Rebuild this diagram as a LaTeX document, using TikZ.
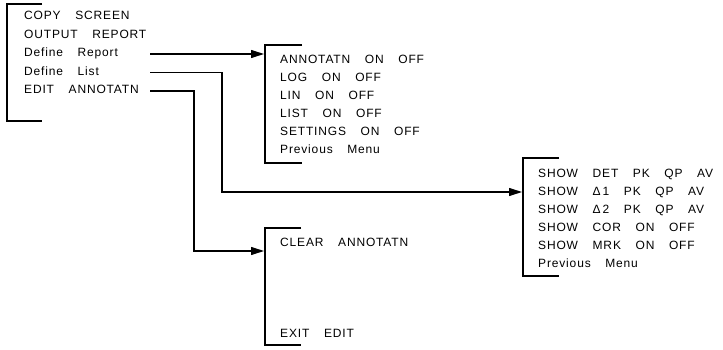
\documentclass[tikz,border=0pt]{standalone}
\usepackage{fontspec}
\newfontfamily\menufont{Liberation Sans}[LetterSpace=7,WordSpace=3.5]
\usetikzlibrary{arrows.meta}

\begin{document}
\begin{tikzpicture}[x=1pt, y=-1pt, every node/.style={font=\menufont\fontsize{12}{14}\selectfont}, item/.style={anchor=west,inner sep=0pt,text height=8.6pt,text depth=3pt}, bracket/.style={line width=1.8pt}, arrow/.style={-{Triangle[length=13pt,width=8pt]},line width=1.1pt}]
\useasboundingbox (0,0) rectangle (723,350);
% main menu
\draw[bracket] (42,4) -| (7,121) -- (42,121);
\node[item] (copy) at (24,17) {COPY SCREEN};
\node[item] (output) at (24,35.5) {OUTPUT REPORT};
\node[item] (defrep) at (24,54) {Define Report};
\node[item] (deflist) at (24,72.5) {Define List};
\node[item] (editann) at (24,91) {EDIT ANNOTATN};
\coordinate (out) at (150,0);
\coordinate (listbend) at (222,0);
\coordinate (editbend) at (194,0);
% define report menu
\draw[bracket] (302,45) -| (265,163) -- (302,163);
\coordinate (rephead) at (264,54);
\node[item] (annot) at (280,60.5) {ANNOTATN ON OFF};
\node[item] (log) at (280,78.5) {LOG ON OFF};
\node[item] (lin) at (280,96.5) {LIN ON OFF};
\node[item] (list) at (280,114.5) {LIST ON OFF};
\node[item] (settings) at (280,132.5) {SETTINGS ON OFF};
\node[item] (prevrep) at (280,150.5) {Previous Menu};
% define list menu
\draw[bracket] (559,158) -| (523,276) -- (559,276);
\coordinate (listhead) at (522,192);
\node[item] (showdet) at (538,174.5) {SHOW DET PK QP AV};
\node[item] (showda) at (538,192.5) {SHOW Δ\,1 PK QP AV};
\node[item] (showdb) at (538,210.5) {SHOW Δ\,2 PK QP AV};
\node[item] (showcor) at (538,228.5) {SHOW COR ON OFF};
\node[item] (showmrk) at (538,246.5) {SHOW MRK ON OFF};
\node[item] (prevlist) at (538,264.5) {Previous Menu};
% edit annotation menu
\draw[bracket] (301,228) -| (265,345) -- (301,345);
\coordinate (edithead) at (264,251);
\node[item] (clear) at (280,243.5) {CLEAR ANNOTATN};
\node[item] (exitedit) at (280,334.5) {EXIT EDIT};
% connectors
\draw[arrow] (defrep.west -| out) -- (rephead);
\draw[arrow] (deflist.west -| out) -- (deflist.west -| listbend) |- (listhead);
\draw[arrow] (editann.west -| out) -- (editann.west -| editbend) |- (edithead);
\end{tikzpicture}
\end{document}
